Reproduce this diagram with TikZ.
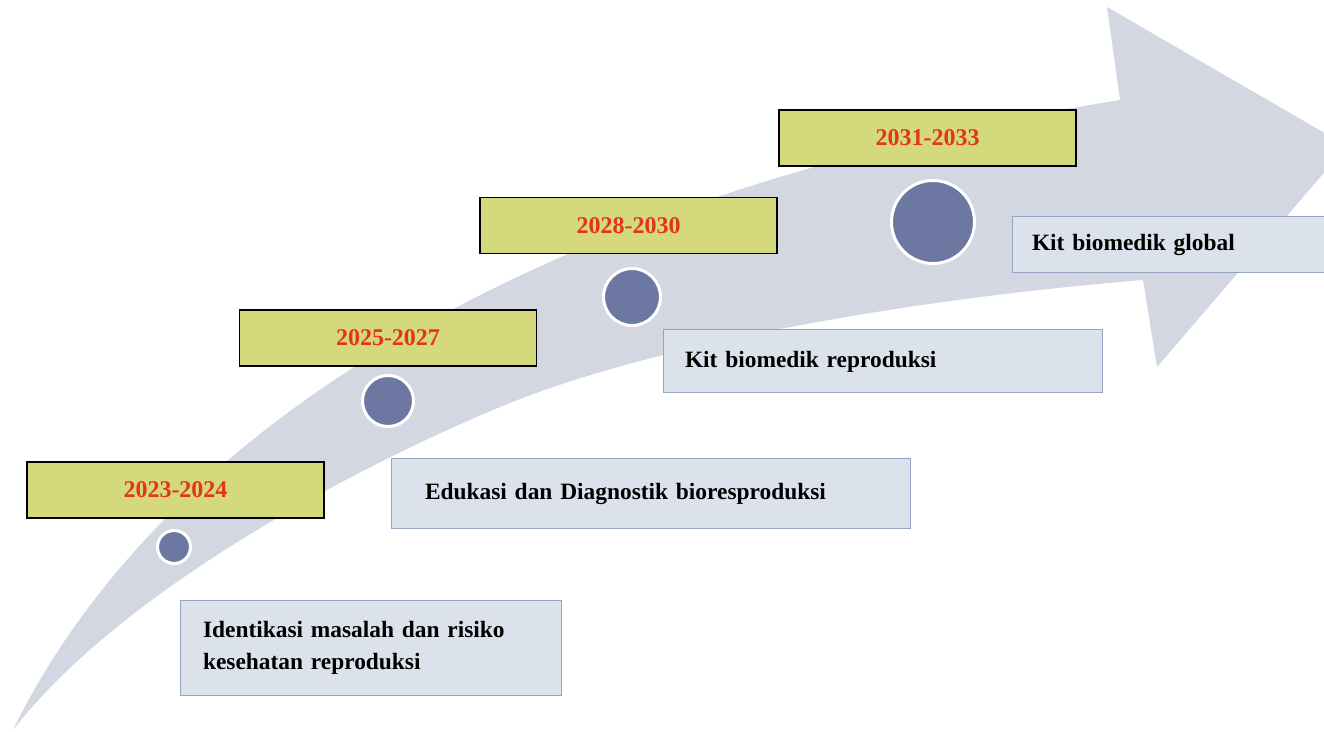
\documentclass[tikz,border=0pt]{standalone}
\usepackage{fontspec}
\setmainfont{Liberation Serif}
\usetikzlibrary{positioning}
\definecolor{ArrowGray}{RGB}{211,215,226}
\definecolor{YearYellow}{RGB}{212,217,124}
\definecolor{YearRed}{RGB}{228,52,30}
\definecolor{DotBlue}{RGB}{108,120,162}
\definecolor{GoalFill}{RGB}{220,226,236}
\definecolor{GoalLine}{RGB}{150,165,195}
\tikzset{
  year/.style={draw=black,line width=0.8pt,fill=YearYellow,inner sep=0pt,
    minimum width=148.5pt,minimum height=28pt,text=YearRed,
    font=\fontsize{12}{14}\selectfont\bfseries},
  dot/.style={circle,draw=white,line width=1.5pt,fill=DotBlue,inner sep=0pt},
  goal/.style={draw=GoalLine,line width=0.5pt,fill=GoalFill,align=left,
    inner ysep=0pt,font=\fontsize{11.7}{16}\selectfont\bfseries},
}

\begin{document}
\begin{tikzpicture}[x=0.5pt,y=-0.5pt]
\clip (0,0) rectangle (1324,732);
% the curved arrow
\coordinate (tail) at (13,730);
\fill[ArrowGray] (tail) .. controls (150,450) and (500,200) .. (1120,100)
  -- (1107,7) -- (1347,146) -- (1157,367) -- (1143,280)
  .. controls (900,300) and (650,345) .. (500,407)
  .. controls (380,457) and (130,580) .. (tail) -- cycle;
\coordinate (p1) at (174,547);
\coordinate (p2) at (388,401);
\coordinate (p3) at (632,297);
\coordinate (p4) at (933,222);
\node[dot,minimum size=16.5pt] (d1) at (p1) {};
\node[dot,minimum size=25.5pt] (d2) at (p2) {};
\node[dot,minimum size=28.5pt] (d3) at (p3) {};
\node[dot,minimum size=41.5pt] (d4) at (p4) {};
\node[year] (y1) at (175.5,490) {2023-2024};
\node[year] (y2) at (388,338) {2025-2027};
\node[year] (y3) at (628.5,225.5) {2028-2030};
\node[year] (y4) at (927.5,138) {2031-2033};
\node[goal,text width=167.5pt,inner xsep=11.5pt,minimum height=47.5pt]
  (g1) at (370.5,648) {Identikasi masalah dan risiko\\kesehatan reproduksi};
\node[goal,text width=225.5pt,inner xsep=17pt,minimum height=35pt]
  (g2) at (650.5,494) {Edukasi dan Diagnostik bioresproduksi};
\node[goal,text width=197.5pt,inner xsep=11pt,minimum height=31.5pt]
  (g3) at (882.5,361.5) {Kit biomedik reproduksi};
\node[goal,text width=144pt,inner xsep=10pt,minimum height=28pt]
  (g4) at (1176,244.5) {Kit biomedik global};
\end{tikzpicture}
\end{document}
